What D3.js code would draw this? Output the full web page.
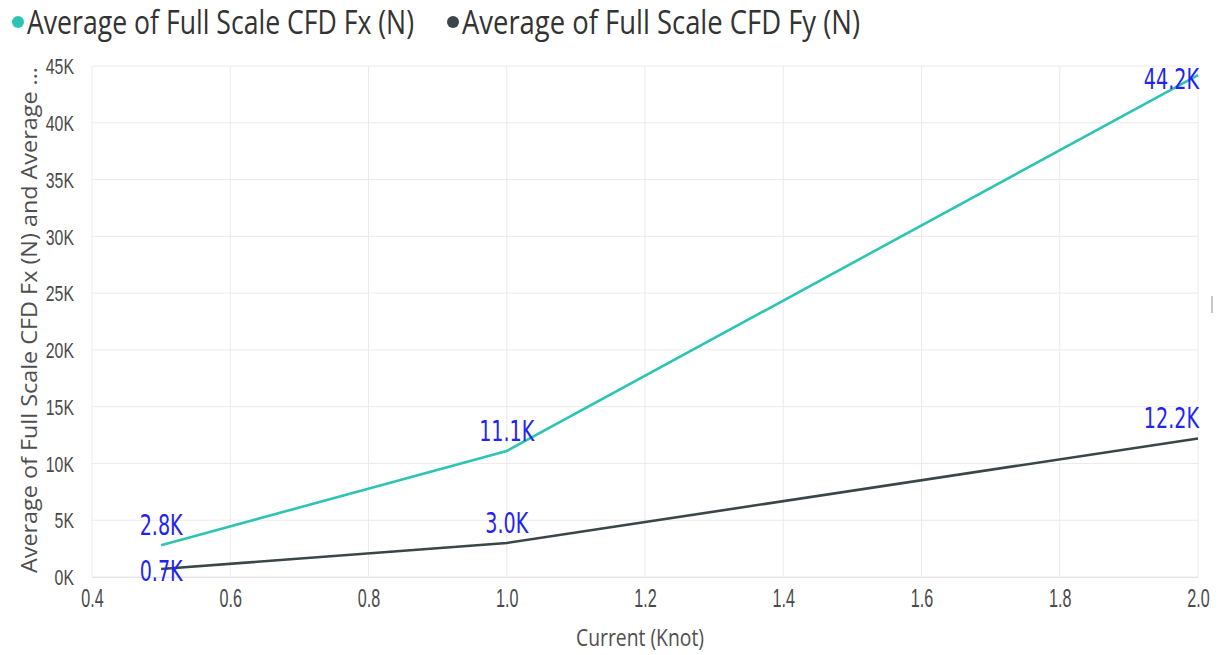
<!DOCTYPE html>
<html>
<head>
<meta charset="utf-8">
<script src="https://cdn.jsdelivr.net/npm/d3@7"></script>
<style>
  html, body { margin: 0; padding: 0; background: #ffffff; }
  svg { display: block; font-family: "Open Sans", "Noto Sans", sans-serif; }
</style>
</head>
<body>
<svg id="chart" width="1224" height="655"></svg>
<script>
// Current speed (knots) and averaged CFD forces (N)
const currents = [0.5, 1.0, 2.0];
const fxValues = [2800, 11100, 44200];
const fyValues = [700, 3000, 12200];
const fxLabels = ["2.8K", "11.1K", "44.2K"];
const fyLabels = ["0.7K", "3.0K", "12.2K"];
const xTicks = [0.4, 0.6, 0.8, 1.0, 1.2, 1.4, 1.6, 1.8, 2.0];
const yTicks = [0, 5000, 10000, 15000, 20000, 25000, 30000, 35000, 40000, 45000];
const seriesNames = ["Average of Full Scale CFD Fx (N)", "Average of Full Scale CFD Fy (N)"];
const seriesColors = ["#2ec4b4", "#3a4649"];

const svg = d3.select("#chart");
const margin = { left: 92, right: 26, top: 66, bottom: 78 };
const W = 1224, H = 655;

const x = d3.scaleLinear().domain([0.4, 2.0]).range([margin.left, W - margin.right]);
const y = d3.scaleLinear().domain([0, 45000]).range([H - margin.bottom, margin.top]);

// squeeze text horizontally by a factor
function condense(sel, k) {
  sel.each(function () {
    const w = this.getComputedTextLength() * k;
    d3.select(this).attr("textLength", w).attr("lengthAdjust", "spacingAndGlyphs");
  });
}

// gridlines
svg.append("g").selectAll("line").data(yTicks).join("line")
  .attr("x1", margin.left).attr("x2", W - margin.right)
  .attr("y1", d => y(d)).attr("y2", d => y(d))
  .attr("stroke", "#ebebeb").attr("stroke-width", 1);
svg.append("g").selectAll("line").data(xTicks).join("line")
  .attr("x1", d => x(d)).attr("x2", d => x(d))
  .attr("y1", y(45000)).attr("y2", y(0))
  .attr("stroke", "#ebebeb").attr("stroke-width", 1);

// y axis
const yAxis = svg.append("g")
  .attr("transform", `translate(${margin.left},0)`)
  .call(d3.axisLeft(y).tickValues(yTicks).tickFormat(d => (d / 1000) + "K").tickSize(0).tickPadding(18));
yAxis.select(".domain").remove();
yAxis.selectAll("text").attr("font-size", 22).attr("fill", "#4a4a4a")
  .attr("dy", "0.35em");
condense(yAxis.selectAll("text"), 0.72);

// x axis
const xAxis = svg.append("g")
  .attr("transform", `translate(0,${y(0)})`)
  .call(d3.axisBottom(x).tickValues(xTicks).tickFormat(d3.format(".1f")).tickSize(0).tickPadding(12));
xAxis.select(".domain").attr("stroke", "#e4e4e4");
xAxis.selectAll("text").attr("font-size", 26).attr("fill", "#4a4a4a");
condense(xAxis.selectAll("text"), 0.62);

// axis titles
svg.append("text").attr("x", 640).attr("y", 646).attr("text-anchor", "middle")
  .attr("font-size", 24).attr("fill", "#4f4f4f")
  .attr("textLength", 128).attr("lengthAdjust", "spacingAndGlyphs")
  .text("Current (Knot)");

svg.append("text").attr("transform", "translate(37,320) rotate(-90)").attr("text-anchor", "middle")
  .attr("font-size", 21).attr("fill", "#4f4f4f")
  .attr("textLength", 506).attr("lengthAdjust", "spacingAndGlyphs")
  .text("Average of Full Scale CFD Fx (N) and Average ...");

// lines
const line = d3.line().x(d => x(d[0])).y(d => y(d[1]));
const series = [fxValues, fyValues];
series.forEach((vals, i) => {
  svg.append("path")
    .datum(currents.map((c, j) => [c, vals[j]]))
    .attr("d", line).attr("fill", "none")
    .attr("stroke", seriesColors[i]).attr("stroke-width", 2.6);
});

// data labels: above each point, except where the top or bottom edge pushes them onto the line;
// narrowed with a horizontal scale about their anchor
const labelScale = 0.66;
const labelSets = [fxLabels, fyLabels];
labelSets.forEach((labs, i) => {
  const vals = series[i];
  svg.append("g").selectAll("text").data(currents).join("text")
    .attr("transform", (d, j) => {
      let ty = y(vals[j]) - 10;
      if (i === 1 && j === 0) ty = y(vals[j]) + 12;
      if (i === 0 && j === 2) ty = y(vals[j]) + 14;
      const tx = j === 2 ? x(d) + 1 : x(d);
      return `translate(${tx},${ty}) scale(${labelScale},1)`;
    })
    .attr("text-anchor", (d, j) => j === 2 ? "end" : "middle")
    .attr("font-size", 29).attr("fill", "#2323f0")
    .attr("font-family", "'DejaVu Sans', sans-serif")
    .text((d, j) => labs[j]);
});

// legend
const legendX = [18, 453];
const legendW = [387, 398];
seriesNames.forEach((name, i) => {
  svg.append("circle").attr("cx", legendX[i]).attr("cy", 22).attr("r", 6).attr("fill", seriesColors[i]);
  svg.append("text").attr("x", legendX[i] + 9).attr("y", 34)
    .attr("font-size", 32).attr("fill", "#333")
    .attr("textLength", legendW[i]).attr("lengthAdjust", "spacingAndGlyphs")
    .text(name);
});

// scroll handle at the right edge
svg.append("line").attr("x1", 1212).attr("x2", 1212).attr("y1", 296).attr("y2", 313)
  .attr("stroke", "#b5b5b5").attr("stroke-width", 1.5);
</script>
</body>
</html>
